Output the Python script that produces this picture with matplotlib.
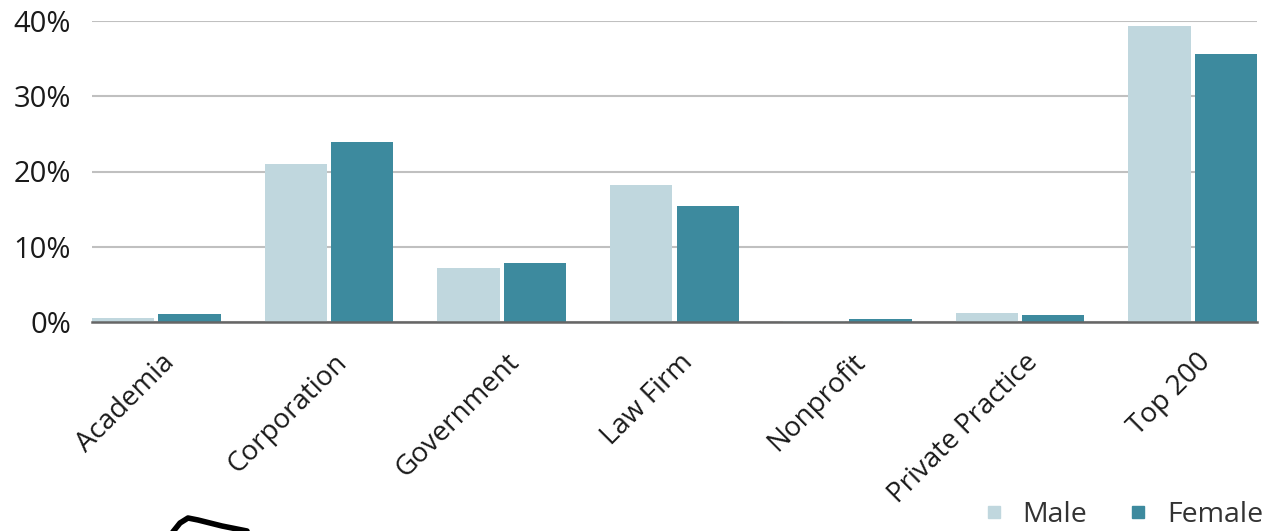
import numpy as np
import matplotlib.pyplot as plt
import matplotlib.transforms as mtransforms
from matplotlib.lines import Line2D

# Share of respondents by employer type, split by gender (percent)
categories = ['Academia', 'Corporation', 'Government', 'Law Firm',
              'Nonprofit', 'Private Practice', 'Top 200']
male = [0.5, 21.0, 7.2, 18.2, 0.15, 1.2, 39.4]
female = [1.0, 23.9, 7.8, 15.4, 0.4, 0.9, 35.6]
y_ticks = [0, 10, 20, 30, 40]
y_tick_labels = ['0%', '10%', '20%', '30%', '40%']

male_color = '#c0d7de'
female_color = '#3d8a9e'

fig = plt.figure(figsize=(12.81, 5.31), dpi=100)
ax = fig.add_axes([92 / 1281, 1 - 322 / 531, (1257 - 92) / 1281, (322 - 21) / 531])

x = np.arange(len(categories))
w = 0.36
gap = 0.012
ax.bar(x - w / 2 - gap, male, width=w, color=male_color, label='Male', zorder=2)
ax.bar(x + w / 2 + gap, female, width=w, color=female_color, label='Female', zorder=2)

ax.set_xlim(-w - gap, len(categories) - 1 + w + gap)
ax.set_ylim(0, 40)
ax.set_yticks(y_ticks)
ax.set_yticklabels(y_tick_labels, fontsize=21, family='Open Sans', color='#1a1a1a')
ax.yaxis.grid(True, color='#c0c0c0', linewidth=1.5, zorder=0)
ax.tick_params(axis='y', length=0, pad=15)
ax.tick_params(axis='x', length=0, pad=8)

ax.set_xticks(x)
ax.set_xticklabels(categories, rotation=45, ha='right', va='center',
                   rotation_mode='anchor', fontsize=20, family='Open Sans',
                   color='#1a1a1a')
offset = mtransforms.ScaledTranslation(10 / 72, -18 / 72, fig.dpi_scale_trans)
for lbl in ax.get_xticklabels():
    lbl.set_transform(lbl.get_transform() + offset)

for side in ['top', 'right', 'left']:
    ax.spines[side].set_visible(False)
ax.spines['bottom'].set_color('#666666')
ax.spines['bottom'].set_linewidth(1.8)
ax.spines['bottom'].set_zorder(3)

handles = [Line2D([], [], marker='s', linestyle='', markersize=9, color=male_color),
           Line2D([], [], marker='s', linestyle='', markersize=9, color=female_color)]
fig.legend(handles, ['Male', 'Female'], loc='center right',
           bbox_to_anchor=(1.006, 1 - 515 / 531), ncol=2, frameon=False,
           prop={'family': 'Open Sans', 'size': 20.5}, labelcolor='#333333',
           handletextpad=0.5, columnspacing=1.3, handlelength=1.0)

# fragment of a logo at the bottom-left edge
logo_x = np.array([172, 180, 188, 198, 222, 247]) / 1281
logo_y = 1 - np.array([533, 523, 518, 520, 526, 531]) / 531
fig.add_artist(Line2D(logo_x, logo_y, transform=fig.transFigure,
                      color='black', linewidth=4, solid_capstyle='round'))

fig.savefig('out.png', dpi=100)
